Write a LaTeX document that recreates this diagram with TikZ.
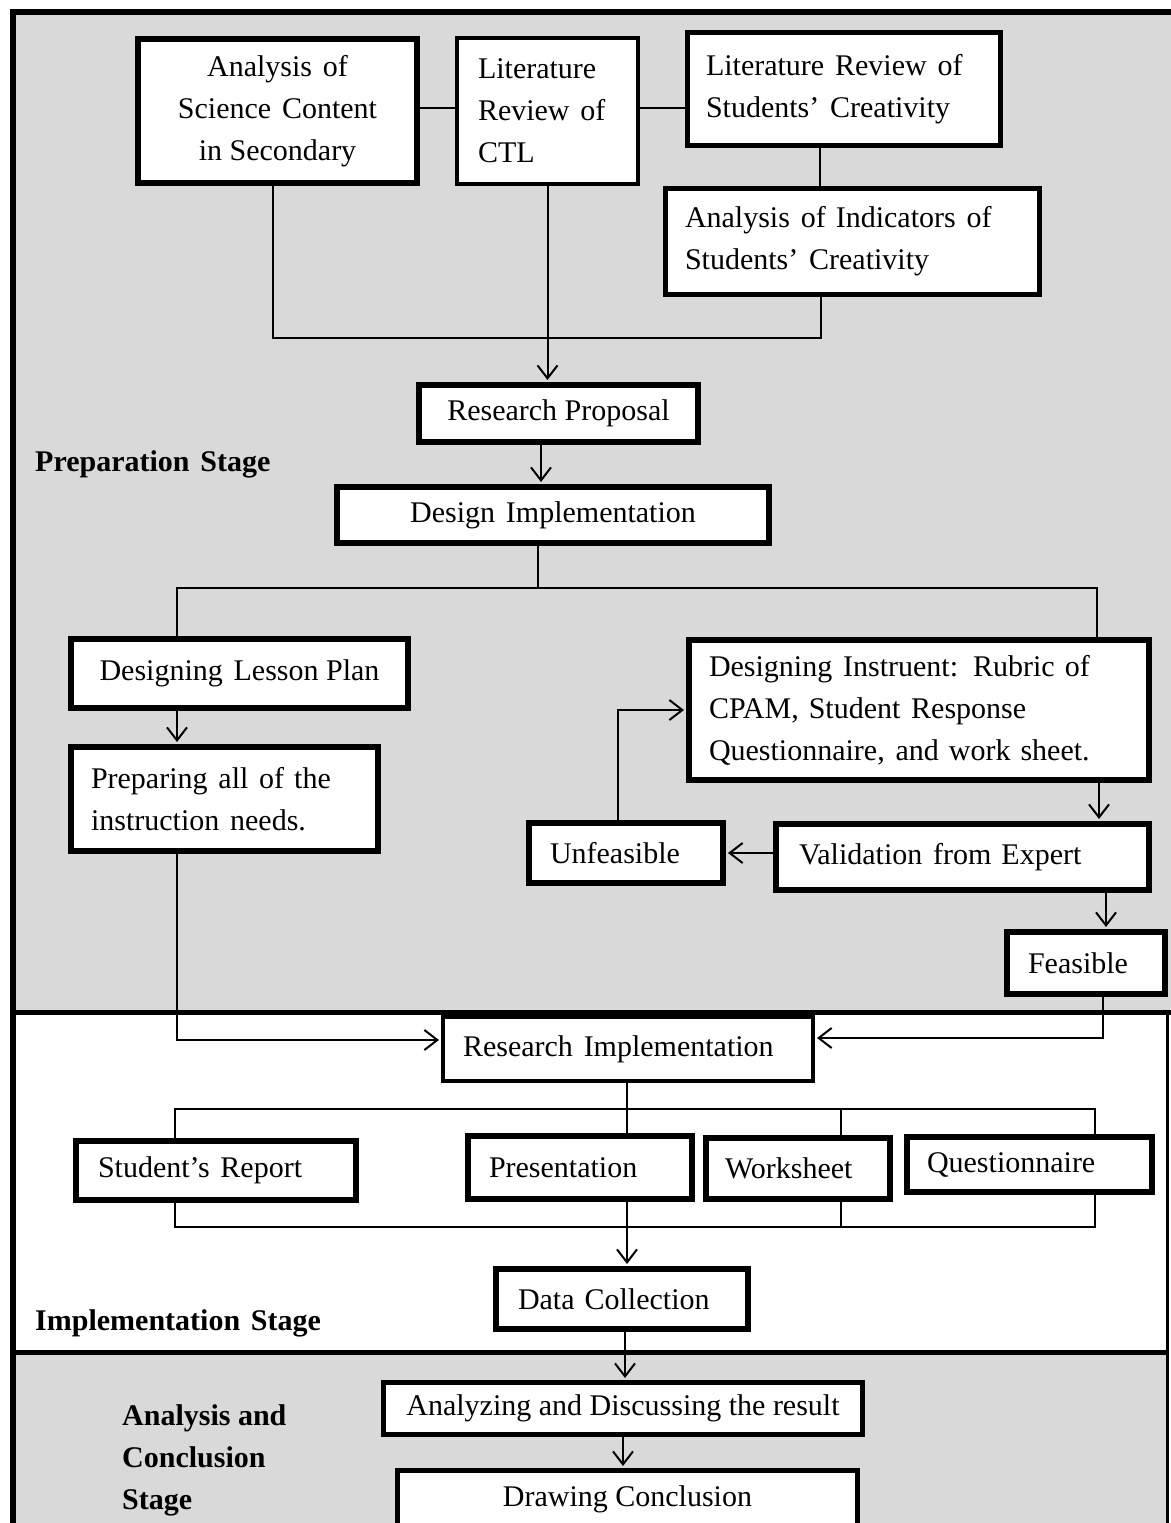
\documentclass[tikz,border=0pt]{standalone}
\usepackage{fontspec}
\setmainfont{Liberation Serif}
\usetikzlibrary{arrows.meta}
\definecolor{panelgray}{HTML}{D9D9D9}
\newcommand{\wsp}{\hspace{0.36em}}
\begin{document}
\begin{tikzpicture}[x=1pt,y=-1pt,
  every node/.style={inner sep=0pt},
  box/.style={draw=black, fill=white, line width=6pt, rectangle, font=\fontsize{30}{42}\selectfont},
  thinbox/.style={box, line width=4pt},
  conn/.style={line width=2pt, black},
  arr/.style={conn, -{Straight Barb[length=13pt,width=20pt]}, shorten >=2pt},
  stagelabel/.style={font=\fontsize{30}{42}\selectfont\bfseries, align=left}]

\useasboundingbox (0,0) rectangle (1170,1523);

% panels
\fill[panelgray] (12,12) rectangle (1180,1012);
\fill[white] (12,1012) rectangle (1168,1352);
\fill[panelgray] (12,1352) rectangle (1168,1540);
\draw[line width=6pt, line join=miter] (1180,12) -- (13,12) -- (13,1540);
\draw[line width=5pt] (13,1012) -- (1180,1012);
\draw[line width=5pt] (13,1352) -- (1168,1352);
\draw[line width=3pt] (1167.5,1012) -- (1167.5,1540);

% boxes
\node[box, minimum width=279pt, minimum height=144pt, align=center] (A1) at (277.5,111) {Analysis\wsp of\\Science\wsp Content\\in Secondary};
\node[thinbox, minimum width=181pt, minimum height=146pt, text width=139pt, align=left] (A2) at (547.5,111) {Literature\\Review\wsp of\\CTL};
\node[box, line width=5pt, minimum width=313pt, minimum height=113pt, text width=276pt, align=left] (A3) at (844,89) {Literature\wsp Review\wsp of\\Students’\wsp Creativity};
\node[box, line width=5pt, minimum width=374pt, minimum height=106pt, text width=335pt, align=left] (A4) at (852.5,241.5) {Analysis\wsp of Indicators\wsp of\\Students’\wsp Creativity};
\node[box, minimum width=279pt, minimum height=57pt] (RP) at (558.5,413.5) {Research Proposal};
\node[box, minimum width=432pt, minimum height=56pt] (DI) at (553,515) {Design\wsp Implementation};
\node[box, minimum width=337pt, minimum height=69pt] (DLP) at (239.5,673.5) {Designing\wsp Lesson Plan};
\node[box, minimum width=307pt, minimum height=104pt, text width=267pt, align=left] (PAI) at (224.5,799) {Preparing\wsp all\wsp of the\\instruction\wsp needs.};
\node[box, minimum width=460pt, minimum height=140pt, text width=420pt, align=left] (DIN) at (919,710) {Designing\wsp Instruent: Rubric of\\CPAM, Student\wsp Response\\Questionnaire,\wsp and work sheet.};
\node[box, minimum width=194pt, minimum height=60pt, text width=152pt, align=left] (UNF) at (626,853) {Unfeasible};
\node[box, minimum width=373pt, minimum height=66pt, text width=327pt, align=left] (VAL) at (962.5,857) {Validation\wsp from Expert};
\node[box, minimum width=158pt, minimum height=62pt, text width=116pt, align=left] (FEA) at (1086,963) {Feasible};
\node[thinbox, minimum width=370pt, minimum height=64pt, text width=330pt, align=left] (RI) at (628,1049) {Research\wsp Implementation};
\node[box, minimum width=280pt, minimum height=59pt, text width=236pt, align=left] (SR) at (216,1170.5) {Student’s\wsp Report};
\node[box, minimum width=224pt, minimum height=63pt, text width=182pt, align=left] (PR) at (580,1167.5) {Presentation};
\node[box, minimum width=184pt, minimum height=61pt, text width=146pt, align=left] (WS) at (798,1168.5) {Worksheet};
\node[box, minimum width=245pt, minimum height=55pt, text width=205pt, align=left] (QU) at (1029.5,1164.5) {Questionnaire};
\node[box, minimum width=252pt, minimum height=60pt, text width=208pt, align=left] (DC) at (622,1299) {Data Collection};
\node[box, line width=5pt, minimum width=479pt, minimum height=52pt] (AD) at (623,1408.5) {Analyzing and Discussing the result};
\node[box, line width=5pt, minimum width=460pt, minimum height=57pt] (DCon) at (627.5,1499) {Drawing Conclusion};

% stage labels
\node[stagelabel, anchor=base west] (Lprep) at (35,471) {Preparation\wsp Stage};
\node[stagelabel, anchor=base west] (Limpl) at (35,1330) {Implementation\wsp Stage};
\node[stagelabel, anchor=west] (Lana) at (122,1460) {Analysis and\\Conclusion\\Stage};

% helper coordinates
\coordinate (a1e) at ([yshift=3pt]A1.east);
\coordinate (a2e) at ([yshift=3pt]A2.east);
\coordinate (a3s) at ([xshift=-24pt]A3.south);
\coordinate (a4s) at ([xshift=-31.5pt]A4.south);
\coordinate (j1) at (273,338);
\coordinate (rps) at ([xshift=-17.5pt]RP.south);
\coordinate (dis) at ([xshift=-15pt]DI.south);
\coordinate (bl) at (177,588);
\coordinate (br) at (1097,588);
\coordinate (xdv) at (1099,0);
\coordinate (xvf) at (1106,0);
\coordinate (xfr) at (1103,0);
\coordinate (valw) at ([yshift=4pt]VAL.west);
\coordinate (unfn) at ([xshift=-8pt]UNF.north);
\coordinate (riw) at ([yshift=9pt]RI.west);
\coordinate (rie) at ([yshift=11pt]RI.east);
\coordinate (ris) at ([xshift=-1pt]RI.south);
\coordinate (tl) at (175,1109);
\coordinate (tr) at (1095,1109);
\coordinate (tm) at (841,1109);
\coordinate (bbl) at (175,1227);
\coordinate (bbr) at (1095,1227);
\coordinate (bbm) at (841,1227);
\coordinate (dcs) at ([xshift=3pt]DC.south);

% connectors
\draw[conn] (a1e) -- (a1e -| A2.west);
\draw[conn] (a2e) -- (a2e -| A3.west);
\draw[conn] (a3s) -- (a3s |- A4.north);
\draw[conn] (A1.south -| j1) -- (j1) -| (a4s);
\draw[arr] (A2.south) -- (A2.south |- RP.north);
\draw[arr] (rps) -- (rps |- DI.north);
\draw[conn] (dis) -- (dis |- bl);
\draw[conn] (DLP.north -| bl) -- (bl) -- (br) -- (br |- DIN.north);
\draw[arr] (DLP.south -| bl) -- (PAI.north -| bl);
\draw[arr] (PAI.south -| bl) |- (riw);
\draw[arr] (DIN.south -| xdv) -- (VAL.north -| xdv);
\draw[arr] (valw) -- (valw -| UNF.east);
\draw[arr] (unfn) |- (DIN.west);
\draw[arr] (VAL.south -| xvf) -- (FEA.north -| xvf);
\draw[arr] (FEA.south -| xfr) |- (rie);
\draw[conn] (ris) -- (ris |- PR.north);
\draw[conn] (SR.north -| tl) -- (tl) -- (tr) -- (QU.north -| tr);
\draw[conn] (tm) -- (WS.north -| tm);
\draw[conn] (SR.south -| bbl) -- (bbl) -- (bbr) -- (QU.south -| bbr);
\draw[conn] (WS.south -| bbm) -- (bbm);
\draw[arr] (PR.south -| ris) -- (DC.north -| ris);
\draw[arr] (dcs) -- (dcs |- AD.north);
\draw[arr] (AD.south) -- (AD.south |- DCon.north);
\end{tikzpicture}
\end{document}
